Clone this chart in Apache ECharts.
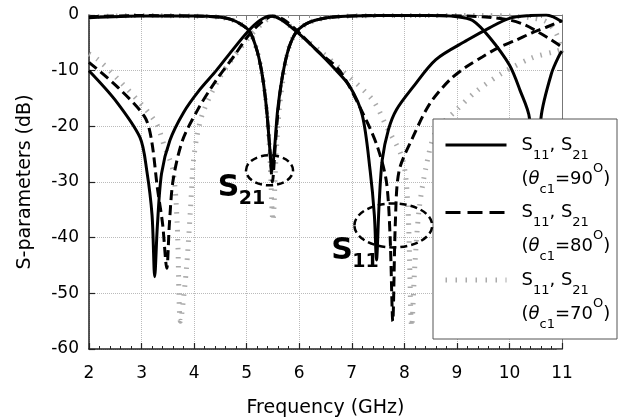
<!DOCTYPE html>
<html><head><meta charset="utf-8">
<script src="https://cdn.jsdelivr.net/npm/echarts@6/dist/echarts.min.js"></script>
<style>html,body{margin:0;padding:0;background:#fff}#c{width:631px;height:420px}</style>
</head><body><div id="c"></div>
<script>
// ---- tick labels ----
const xTicks = [2, 3, 4, 5, 6, 7, 8, 9, 10, 11];
const yTicks = [-60, -50, -40, -30, -20, -10, 0];
const angles = ['90', '80', '70'];

// ---- theta = 90 (solid) ----
const s11_90_f  = [2.0, 2.5, 2.97, 3.1, 3.2, 3.25, 3.3, 3.38, 3.54, 3.8, 4.1, 4.42, 4.73, 5.02, 5.25, 5.45, 5.65, 5.95, 6.33, 6.64, 6.96, 7.2, 7.35, 7.43, 7.47, 7.52, 7.58, 7.7, 7.85, 8.16, 8.6, 9.2, 9.62, 10.0, 10.4, 10.7, 11.0];
const s11_90_db = [-10, -15.3, -22, -28, -36, -47, -38, -28.5, -22.5, -17.5, -13.5, -10, -6.3, -3, -1, -0.2, -0.8, -3, -6.3, -9.3, -12.8, -18, -28, -36, -44, -34, -26, -20.5, -17, -13, -8, -4.5, -2.3, -0.6, -0.1, 0, -1.2];
const s21_90_f  = [2, 3, 4, 4.5, 4.7, 4.9, 5.06, 5.2, 5.3, 5.38, 5.44, 5.48, 5.53, 5.59, 5.68, 5.8, 5.95, 6.2, 6.6, 7.5, 8.5, 9.0, 9.3, 9.62, 10.0, 10.2, 10.38, 10.48, 10.6, 10.8, 10.95, 11.0];
const s21_90_db = [-0.5, -0.2, -0.2, -0.4, -0.8, -1.7, -3, -6.5, -11, -17, -24, -28, -24, -17, -11, -6, -3, -1.3, -0.4, -0.1, -0.1, -0.3, -1, -4, -9, -13.5, -18.5, -40, -18.5, -10.5, -7.2, -6.5];

// ---- theta = 80 (dashed) ----
const s11_80_f  = [2.0, 2.55, 3.06, 3.19, 3.3, 3.4, 3.48, 3.53, 3.6, 3.78, 4.07, 4.4, 4.75, 5.05, 5.3, 5.5, 5.7, 6.0, 6.35, 6.77, 7.28, 7.5, 7.66, 7.73, 7.78, 7.83, 7.9, 8.16, 8.48, 8.86, 9.18, 9.49, 9.8, 10.13, 10.43, 10.7, 11.0];
const s11_80_db = [-8.5, -13, -18.3, -22.5, -31, -37.5, -45.5, -37.5, -29.7, -22.5, -17, -12, -7.5, -3.5, -1.2, -0.2, -0.8, -3.2, -6.5, -10, -19, -24, -30, -40, -55, -37, -28, -22, -16, -11.7, -9.3, -7.5, -5.8, -4.5, -3.2, -2.2, -1.0];
const s21_80_f  = [2, 3, 4, 4.5, 4.7, 4.9, 5.06, 5.2, 5.3, 5.38, 5.44, 5.49, 5.54, 5.6, 5.68, 5.8, 5.95, 6.2, 6.6, 7.5, 8.5, 9.2, 9.6, 10.0, 10.3, 10.57, 10.8, 11.0];
const s21_80_db = [-0.3, -0.1, -0.2, -0.4, -0.8, -1.7, -3, -6.5, -11, -17, -24, -30, -24, -17, -11, -6, -3, -1.3, -0.4, -0.1, -0.1, -0.2, -0.4, -0.9, -1.8, -3.2, -4.5, -5.8];

// ---- theta = 70 (gray dotted) ----
const s11_70_f  = [2.0, 2.17, 2.5, 3.25, 3.44, 3.6, 3.68, 3.74, 3.85, 3.93, 3.98, 4.05, 4.17, 4.5, 5.0, 5.3, 5.5, 5.7, 6.0, 6.4, 6.82, 7.4, 7.66, 7.97, 8.07, 8.14, 8.2, 8.28, 8.42, 8.6, 9.0, 9.37, 9.87, 10.43, 10.9, 11.0];
const s11_70_db = [-7, -8, -11, -19, -23.7, -28, -38, -55, -46, -35, -27, -22, -17.5, -11, -4.5, -1.5, -0.3, -1, -3.5, -6.5, -10, -15.3, -20, -26, -35, -56, -45, -35, -27, -21, -17, -13.7, -10.4, -7.7, -6.5, -6.2];
const s21_70_f  = [2, 3, 4, 4.5, 4.7, 4.9, 5.06, 5.2, 5.3, 5.38, 5.44, 5.5, 5.56, 5.62, 5.7, 5.8, 5.95, 6.2, 6.6, 7.5, 8.5, 9.5, 10.0, 10.4, 10.7, 10.9, 11.0];
const s21_70_db = [-0.3, -0.1, -0.2, -0.4, -0.8, -1.7, -3, -6.5, -11, -17, -25, -37, -25, -17, -11, -6, -3, -1.3, -0.4, -0.1, -0.1, -0.1, -0.2, -0.5, -1.2, -3.5, -7];

const F = 'DejaVu Sans';
const pts = (f, d) => f.map((v, i) => [v, d[i]]);

const styles = {
  '90': {color: '#000', width: 3, type: 'solid'},
  '80': {color: '#000', width: 3, type: [10, 5]},
  '70': {color: '#aaaaaa', width: 5, type: [1.5, 7.5]}
};
function ser(name, f, d) {
  return {
    name, type: 'line', data: pts(f, d), showSymbol: false, symbol: 'none',
    smooth: 0.3, clip: true, z: 3,
    lineStyle: styles[name], itemStyle: {color: styles[name].color},
    emphasis: {disabled: true}, silent: true
  };
}

const axisCommon = {
  axisLine: {show: true, onZero: false, lineStyle: {color: '#222', width: 1.5}},
  axisTick: {show: true, inside: true, length: 6, lineStyle: {color: '#222', width: 1.2}}
};

const option = {
  animation: false,
  backgroundColor: '#fff',
  grid: {left: 89, right: 69, top: 15, bottom: 71, show: false, containLabel: false, outerBoundsMode: 'none'},
  xAxis: [{
    type: 'value', min: xTicks[0], max: xTicks[xTicks.length - 1], interval: xTicks[1] - xTicks[0],
    position: 'bottom', ...axisCommon,
    minorTick: {show: true, splitNumber: 5, length: 3, lineStyle: {color: '#222', width: 1}},
    splitLine: {show: true, lineStyle: {type: 'dotted', color: '#bbb', width: 1}},
    axisLabel: {fontSize: 17, fontFamily: F, color: '#000', margin: 16},
    name: 'Frequency (GHz)', nameLocation: 'middle', nameGap: 50,
    nameTextStyle: {fontSize: 19, fontFamily: F, color: '#000'}
  }, {
    type: 'value', min: xTicks[0], max: xTicks[xTicks.length - 1], interval: xTicks[1] - xTicks[0],
    position: 'top',
    axisLine: {show: true, onZero: false, lineStyle: {color: '#777', width: 1}},
    axisTick: {show: true, inside: true, length: 5, lineStyle: {color: '#777', width: 1}},
    minorTick: {show: true, splitNumber: 5, length: 3, lineStyle: {color: '#999', width: 1}},
    splitLine: {show: false}, axisLabel: {show: false}
  }],
  yAxis: [{
    type: 'value', min: yTicks[0], max: yTicks[yTicks.length - 1], interval: yTicks[1] - yTicks[0],
    position: 'left', ...axisCommon,
    splitLine: {show: true, lineStyle: {type: 'dotted', color: '#bbb', width: 1}},
    axisLabel: {fontSize: 17, fontFamily: F, color: '#000', margin: 10},
    name: 'S-parameters (dB)', nameLocation: 'middle', nameGap: 54, nameRotate: 90,
    nameTextStyle: {fontSize: 19, fontFamily: F, color: '#000'}
  }, {
    type: 'value', min: yTicks[0], max: yTicks[yTicks.length - 1], interval: yTicks[1] - yTicks[0],
    position: 'right',
    axisLine: {show: true, onZero: false, lineStyle: {color: '#777', width: 1}},
    axisTick: {show: true, inside: true, length: 5, lineStyle: {color: '#777', width: 1}},
    splitLine: {show: false}, axisLabel: {show: false}
  }],
  legend: {
    orient: 'vertical', left: 443, top: 102, padding: 0,
    itemWidth: 61, itemHeight: 14, itemGap: -26.5, selectedMode: false,
    itemStyle: {opacity: 0, borderWidth: 0},
    data: [
      {name: angles[0], lineStyle: {width: 3}},
      {name: angles[1], lineStyle: {width: 3, type: [15, 7]}},
      {name: angles[2], lineStyle: {width: 5, type: [1.5, 8.5]}}
    ],
    formatter: n => '{e| }\n{m|S}{sb|11}{m|, S}{sb|21}\n{m|(}{th|θ}{sb|c1}{m|=' + n + '}{sp|O}{m|)}',
    textStyle: {
      padding: [0, 0, 0, 10], fontFamily: F, color: '#000',
      rich: {
        e: {fontSize: 18, lineHeight: 34, fontFamily: F},
        m: {fontSize: 18, lineHeight: 34, fontFamily: F, color: '#000'},
        th: {fontSize: 18, lineHeight: 34, fontFamily: F, fontStyle: 'italic', color: '#000'},
        sb: {fontSize: 13, lineHeight: 24, verticalAlign: 'bottom', fontFamily: F, color: '#000'},
        sp: {fontSize: 13, lineHeight: 29, verticalAlign: 'top', fontFamily: F, color: '#000'}
      }
    },
    z: 6
  },
  series: [
    ser('70', s11_70_f, s11_70_db), ser('70', s21_70_f, s21_70_db),
    ser('80', s11_80_f, s11_80_db), ser('80', s21_80_f, s21_80_db),
    ser('90', s11_90_f, s11_90_db), ser('90', s21_90_f, s21_90_db)
  ]
};

const chart = echarts.init(document.getElementById('c'));
chart.setOption(option);

// annotations anchored in data space
const P = (x, y) => chart.convertToPixel({xAxisIndex: 0, yAxisIndex: 0}, [x, y]);
function ellipse(cx, cy, hx, hy) {
  const c = P(cx, cy), e = P(cx + hx, cy - hy);
  return {type: 'ellipse', z: 7, silent: true,
    shape: {cx: c[0], cy: c[1], rx: e[0] - c[0], ry: e[1] - c[1]},
    style: {fill: 'none', stroke: '#000', lineWidth: 2.5, lineDash: [7, 4]}};
}
function label(x, y, sub) {
  const p = P(x, y);
  return [
    {type: 'text', z: 7, silent: true, x: p[0], y: p[1],
      style: {text: 'S', font: 'bold 30px "DejaVu Sans"', fill: '#000', align: 'left', verticalAlign: 'middle'}},
    {type: 'text', z: 7, silent: true, x: p[0] + 21, y: p[1] + 11,
      style: {text: sub, font: 'bold 19px "DejaVu Sans"', fill: '#000', align: 'left', verticalAlign: 'middle'}}
  ];
}
chart.setOption({
  graphic: [
    {type: 'rect', z: 5, silent: true, shape: {x: 433, y: 119, width: 184, height: 220},
      style: {fill: '#fff', stroke: '#555', lineWidth: 1}},
    ellipse(5.435, -27.9, 0.447, 2.7),
    ellipse(7.79, -37.8, 0.74, 3.95),
    ...label(4.45, -31.1, '21'),
    ...label(6.61, -42.4, '11')
  ]
});
</script></body></html>
